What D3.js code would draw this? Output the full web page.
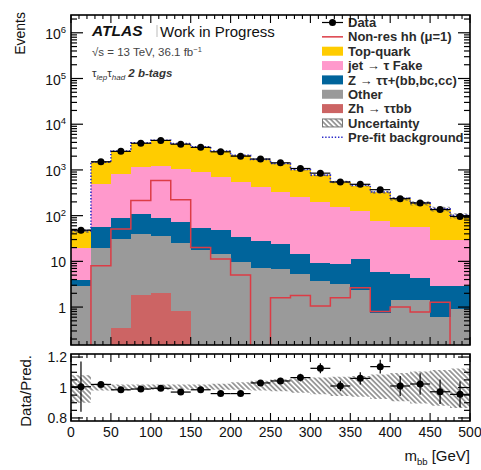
<!DOCTYPE html>
<html>
<head>
<meta charset="utf-8">
<script src="https://d3js.org/d3.v7.min.js"></script>
<style>
  body { margin: 0; background: #fff; }
  text { font-family: "Liberation Sans", Arial, Helvetica, sans-serif; }
</style>
</head>
<body>
<script>
// m_bb bins, 25 GeV wide
let binLow = [0, 25, 50, 75, 100, 125, 150, 175, 200, 225, 250, 275, 300, 325, 350, 375, 400, 425, 450, 475];
let binWidth = 25;

// stacked backgrounds (events per bin), bottom to top
let zhtt   = [0, 0, 0.35, 1.8, 2.0, 0.82, 0, 0, 0, 0, 0, 0, 0, 0, 0, 0, 0, 0, 0, 0];
let other  = [2.9, 20, 30, 38, 34, 24, 17.6, 14.4, 9.9, 7.3, 6.7, 5.2, 3.8, 3.2, 2.4, 0.75, 1.4, 1.4, 0.6, 0.9];
let ztautau = [1.0, 37, 58, 69, 53, 46, 37, 33, 25, 21, 17, 9.2, 5.6, 5.5, 9, 5, 3.8, 3.0, 2.3, 2.0];
let fake   = [15.6, 440, 736, 1040, 1100, 990, 835, 648, 505, 391, 301, 239, 187, 143, 118, 72, 50, 51, 27, 27];
let topq   = [27, 983, 1765, 2730, 3260, 2710, 2280, 1895, 1540, 1256, 1045, 757, 561, 388, 327, 247, 178, 131, 110, 70];

// signal (not stacked), pre-fit background and data
let hh     = [0, 8.0, 51, 214, 588, 224, 20, 11.2, 5.05, 0, 1.6, 1.8, 1.05, 1.6, 2.65, 0.8, 1.0, 0.78, 1.27, 0];
let prefit = [47, 1480, 2600, 3900, 4450, 3800, 3200, 2600, 2100, 1700, 1380, 1020, 770, 550, 465, 330, 240, 190, 142, 102];
let data   = [48, 1510, 2550, 3840, 4430, 3660, 3120, 2490, 2000, 1730, 1430, 1075, 850, 545, 485, 370, 235, 190, 136, 96];
let dataErr = [7, 39, 50, 62, 67, 60, 56, 50, 45, 42, 38, 33, 29, 23, 22, 19, 15, 14, 12, 10];

// ratio panel
let ratio    = [1.005, 1.02, 0.985, 0.99, 0.995, 0.97, 0.985, 0.96, 0.96, 1.03, 1.043, 1.065, 1.126, 1.01, 1.06, 1.137, 1.01, 1.023, 0.972, 0.955];
let ratioErr = [0.165, 0.012, 0.01, 0.01, 0.01, 0.01, 0.01, 0.012, 0.013, 0.015, 0.02, 0.025, 0.033, 0.035, 0.04, 0.045, 0.065, 0.07, 0.08, 0.085];
let bandLo = [0.90, 0.98, 0.98, 0.985, 0.985, 0.985, 0.985, 0.985, 0.985, 0.98, 0.975, 0.965, 0.955, 0.945, 0.94, 0.925, 0.91, 0.895, 0.88, 0.865];
let bandHi = [1.08, 1.025, 1.02, 1.02, 1.02, 1.02, 1.02, 1.025, 1.035, 1.045, 1.055, 1.06, 1.065, 1.07, 1.075, 1.085, 1.095, 1.105, 1.115, 1.125];

// axis ticks
let xTickLabels = [0, 50, 100, 150, 200, 250, 300, 350, 400, 450, 500];
let yDecades = [0, 1, 2, 3, 4, 5, 6];
let ratioTickLabels = ["0.8", "1", "1.2"];

let width = 481, height = 470;
let left = 71, right = 470, mainTop = 15, mainBottom = 345, ratTop = 354, ratBottom = 421;

let svg = d3.select("body").append("svg")
    .attr("width", width)
    .attr("height", height);
svg.append("rect").attr("width", width).attr("height", height).attr("fill", "#fff");

let x = d3.scaleLinear().domain([0, 500]).range([left, right]);
let y = d3.scaleLog().domain([0.148, 2.45e6]).range([mainBottom, mainTop]);
let yr = d3.scaleLinear().domain([0.78, 1.22]).range([ratBottom, ratTop]);

let defs = svg.append("defs");
let hatch = defs.append("pattern")
    .attr("id", "hatch")
    .attr("patternUnits", "userSpaceOnUse")
    .attr("width", 3.6).attr("height", 3.6)
    .attr("patternTransform", "rotate(-45)");
hatch.append("line")
    .attr("x1", 1.8).attr("y1", 0).attr("x2", 1.8).attr("y2", 3.6)
    .attr("stroke", "#555").attr("stroke-width", 1.1);
defs.append("clipPath").attr("id", "clipMain").append("rect")
    .attr("x", left).attr("y", mainTop).attr("width", right - left).attr("height", mainBottom - mainTop);
defs.append("clipPath").attr("id", "clipRatio").append("rect")
    .attr("x", left).attr("y", ratTop).attr("width", right - left).attr("height", ratBottom - ratTop);

// ---------- main panel ----------
let main = svg.append("g").attr("clip-path", "url(#clipMain)");

let keys = ["zhtt", "other", "ztautau", "fake", "topq"];
let colors = { zhtt: "#cc6464", other: "#9a9a9a", ztautau: "#00649b", fake: "#ff99cc", topq: "#ffcc00" };
let rows = binLow.map((b, i) => ({ zhtt: zhtt[i], other: other[i], ztautau: ztautau[i], fake: fake[i], topq: topq[i] }));
let series = d3.stack().keys(keys)(rows);

main.selectAll("g.layer")
    .data(series)
    .join("g")
        .attr("class", "layer")
        .attr("fill", d => colors[d.key])
    .selectAll("rect")
    .data(d => d.map((p, i) => ({ lo: p[0], hi: p[1], i: i })).filter(p => p.hi - p.lo > 0))
    .join("rect")
        .attr("shape-rendering", "crispEdges")
        .attr("x", d => x(binLow[d.i]))
        .attr("width", d => x(binLow[d.i] + binWidth) - x(binLow[d.i]) + 0.5)
        .attr("y", d => y(d.hi))
        .attr("height", d => (d.lo > 0 ? y(d.lo) : mainBottom + 2) - y(d.hi));

let totals = series[series.length - 1].map(p => p[1]);

let stepPts = arr => binLow.map((b, i) => [b, arr[i]]).concat([[500, arr[arr.length - 1]]]);
let stepLine = d3.line()
    .x(d => x(d[0]))
    .y(d => d[1] > 0 ? y(d[1]) : mainBottom + 5)
    .curve(d3.curveStepAfter);

// signal
main.append("path")
    .attr("d", stepLine(stepPts(hh)))
    .attr("fill", "none")
    .attr("stroke", "#dc3c46")
    .attr("stroke-width", 1.5);

// background uncertainty
let bandPts = binLow.map((b, i) => [b, totals[i] * bandLo[i], totals[i] * bandHi[i]])
    .concat([[500, totals[19] * bandLo[19], totals[19] * bandHi[19]]]);
main.append("path")
    .attr("d", d3.area().x(d => x(d[0])).y0(d => y(d[1])).y1(d => y(d[2])).curve(d3.curveStepAfter)(bandPts))
    .attr("fill", "url(#hatch)");

// pre-fit background
main.append("path")
    .attr("d", stepLine(stepPts(prefit)))
    .attr("fill", "none")
    .attr("stroke", "#2a2ac8")
    .attr("stroke-width", 1.6)
    .attr("stroke-dasharray", "1.4,1.8");

// data
let dg = main.append("g").attr("stroke", "#000").attr("stroke-width", 1.2);
binLow.forEach((b, i) => {
    let cx = x(b + binWidth / 2), cy = y(data[i]);
    dg.append("line").attr("x1", x(b)).attr("x2", x(b + binWidth)).attr("y1", cy).attr("y2", cy);
    dg.append("line").attr("x1", cx).attr("x2", cx).attr("y1", y(data[i] - dataErr[i])).attr("y2", y(data[i] + dataErr[i]));
});
main.selectAll("circle.data")
    .data(data)
    .join("circle")
        .attr("class", "data")
        .attr("cx", (d, i) => x(binLow[i] + binWidth / 2))
        .attr("cy", d => y(d))
        .attr("r", 3.5)
        .attr("fill", "#000");

// ---------- ratio panel ----------
let rat = svg.append("g").attr("clip-path", "url(#clipRatio)");
let rBand = binLow.map((b, i) => [b, bandLo[i], bandHi[i]]).concat([[500, bandLo[19], bandHi[19]]]);
rat.append("path")
    .attr("d", d3.area().x(d => x(d[0])).y0(d => yr(d[1])).y1(d => yr(d[2])).curve(d3.curveStepAfter)(rBand))
    .attr("fill", "url(#hatch)");

let rg = rat.append("g").attr("stroke", "#000").attr("stroke-width", 1.2);
binLow.forEach((b, i) => {
    let cx = x(b + binWidth / 2), cy = yr(ratio[i]);
    rg.append("line").attr("x1", x(b)).attr("x2", x(b + binWidth)).attr("y1", cy).attr("y2", cy);
    rg.append("line").attr("x1", cx).attr("x2", cx).attr("y1", yr(ratio[i] - ratioErr[i])).attr("y2", yr(ratio[i] + ratioErr[i]));
});
rat.selectAll("circle")
    .data(ratio)
    .join("circle")
        .attr("cx", (d, i) => x(binLow[i] + binWidth / 2))
        .attr("cy", d => yr(d))
        .attr("r", 3.5)
        .attr("fill", "#000");

// ---------- legend ----------
let legend = svg.append("g").attr("clip-path", "url(#clipMain)");
let legendItems = [
    { type: "data", label: "Data" },
    { type: "line", label: "Non-res hh (\u03bc=1)", color: "#dc3c46" },
    { type: "box", label: "Top-quark", color: colors.topq },
    { type: "box", label: "jet \u2192 \u03c4 Fake", color: colors.fake },
    { type: "box", label: "Z \u2192 \u03c4\u03c4+(bb,bc,cc)", color: colors.ztautau },
    { type: "box", label: "Other", color: colors.other },
    { type: "box", label: "Zh \u2192 \u03c4\u03c4bb", color: colors.zhtt },
    { type: "hatch", label: "Uncertainty" },
    { type: "dots", label: "Pre-fit background", color: "#2a2ac8" }
];
legendItems.forEach((it, i) => {
    let cy = 22.5 + i * 14.35;
    let g = legend.append("g");
    if (it.type === "data") {
        g.append("line").attr("x1", 322).attr("x2", 343).attr("y1", cy).attr("y2", cy).attr("stroke", "#000").attr("stroke-width", 1.2);
        g.append("circle").attr("cx", 332.5).attr("cy", cy).attr("r", 3.5).attr("fill", "#000");
    } else if (it.type === "line") {
        g.append("line").attr("x1", 322).attr("x2", 343).attr("y1", cy).attr("y2", cy).attr("stroke", it.color).attr("stroke-width", 1.5);
    } else if (it.type === "box") {
        g.append("rect").attr("x", 322).attr("y", cy - 4.5).attr("width", 21).attr("height", 9).attr("fill", it.color);
    } else if (it.type === "hatch") {
        g.append("rect").attr("x", 322.5).attr("y", cy - 4).attr("width", 20).attr("height", 8)
            .attr("fill", "url(#hatch)").attr("stroke", "#777").attr("stroke-width", 1);
    } else {
        g.append("line").attr("x1", 322).attr("x2", 343).attr("y1", cy).attr("y2", cy)
            .attr("stroke", it.color).attr("stroke-width", 1.6).attr("stroke-dasharray", "1.4,1.8");
    }
    g.append("text").attr("x", 348).attr("y", cy + 4.6)
        .attr("font-size", 13).attr("font-weight", "bold").attr("fill", "#2a2a2a").text(it.label);
});

// ---------- frames and ticks ----------
let axes = svg.append("g").attr("stroke", "#000").attr("fill", "none");
[[mainTop, mainBottom], [ratTop, ratBottom]].forEach(([t, bt]) => {
    axes.append("rect").attr("x", left).attr("y", t).attr("width", right - left).attr("height", bt - t)
        .attr("stroke-width", 1.6);
    for (let v = 0; v <= 500; v += 10) {
        let len = v % 50 === 0 ? 8 : 4;
        axes.append("line").attr("x1", x(v)).attr("x2", x(v)).attr("y1", bt).attr("y2", bt - len).attr("stroke-width", 1.1);
        axes.append("line").attr("x1", x(v)).attr("x2", x(v)).attr("y1", t).attr("y2", t + len).attr("stroke-width", 1.1);
    }
});

// log ticks main
for (let e = -1; e <= 6; e++) {
    for (let m = 1; m <= 9; m++) {
        let v = m * Math.pow(10, e);
        if (v < y.domain()[0] || v > y.domain()[1]) continue;
        let len = m === 1 ? 12 : 6;
        axes.append("line").attr("x1", left).attr("x2", left + len).attr("y1", y(v)).attr("y2", y(v)).attr("stroke-width", 1.2);
        axes.append("line").attr("x1", right).attr("x2", right - len).attr("y1", y(v)).attr("y2", y(v)).attr("stroke-width", 1.2);
    }
}
// ratio ticks
for (let k = 0; k <= 8; k++) {
    let v = 0.8 + k * 0.05;
    let len = k % 4 === 0 ? 12 : 6;
    axes.append("line").attr("x1", left).attr("x2", left + len).attr("y1", yr(v)).attr("y2", yr(v)).attr("stroke-width", 1.2);
    axes.append("line").attr("x1", right).attr("x2", right - len).attr("y1", yr(v)).attr("y2", yr(v)).attr("stroke-width", 1.2);
}

// ---------- labels ----------
let txt = svg.append("g").attr("fill", "#111");
yDecades.forEach(e => {
    let t = txt.append("text").attr("x", 66).attr("y", y(Math.pow(10, e)) + 6)
        .attr("text-anchor", "end").attr("font-size", 14);
    if (e === 0) t.text("1");
    else if (e === 1) t.text("10");
    else {
        t.append("tspan").text("10");
        t.append("tspan").attr("dy", -6).attr("font-size", 9.5).text(e);
    }
});
ratioTickLabels.forEach(l => {
    txt.append("text").attr("x", 67).attr("y", yr(+l) + 5)
        .attr("text-anchor", "end").attr("font-size", 14).text(l);
});
xTickLabels.forEach(v => {
    txt.append("text").attr("x", x(v)).attr("y", 437)
        .attr("text-anchor", "middle").attr("font-size", 14).text(v);
});

txt.append("text").attr("transform", "translate(25,12) rotate(-90)")
    .attr("text-anchor", "end").attr("font-size", 14).text("Events");
txt.append("text").attr("transform", "translate(31,355) rotate(-90)")
    .attr("text-anchor", "end").attr("font-size", 15).text("Data/Pred.");

let xl = txt.append("text").attr("x", 470).attr("y", 461).attr("text-anchor", "end").attr("font-size", 15);
xl.append("tspan").text("m");
xl.append("tspan").attr("dy", 4).attr("font-size", 9.5).text("bb");
xl.append("tspan").attr("dy", -4).text(" [GeV]");

txt.append("text").attr("x", 92).attr("y", 35.5)
    .attr("font-size", 15.5).attr("font-weight", "bold").attr("font-style", "italic").text("ATLAS");
svg.append("line").attr("x1", 157).attr("x2", 157).attr("y1", 25).attr("y2", 37)
    .attr("stroke", "#bbb").attr("stroke-width", 1);
txt.append("text").attr("x", 160).attr("y", 36.5)
    .attr("font-family", "Lato, 'Open Sans', sans-serif").attr("font-size", 15).text("Work in Progress");

let lumi = txt.append("text").attr("x", 92).attr("y", 56).attr("font-size", 11.5).attr("fill", "#444");
lumi.append("tspan").text("\u221as = 13 TeV, 36.1 fb");
lumi.append("tspan").attr("dy", -4).attr("font-size", 7.5).text("\u22121");

let chan = txt.append("text").attr("x", 92).attr("y", 77).attr("font-size", 11.5).attr("fill", "#333");
chan.append("tspan").text("\u03c4");
chan.append("tspan").attr("dy", 3).attr("font-size", 8).attr("font-style", "italic").text("lep");
chan.append("tspan").attr("dy", -3).text("\u03c4");
chan.append("tspan").attr("dy", 3).attr("font-size", 8).attr("font-style", "italic").text("had");
chan.append("tspan").attr("dy", -3).attr("font-weight", "bold").attr("font-style", "italic").text(" 2 b-tags");
</script>
</body>
</html>
